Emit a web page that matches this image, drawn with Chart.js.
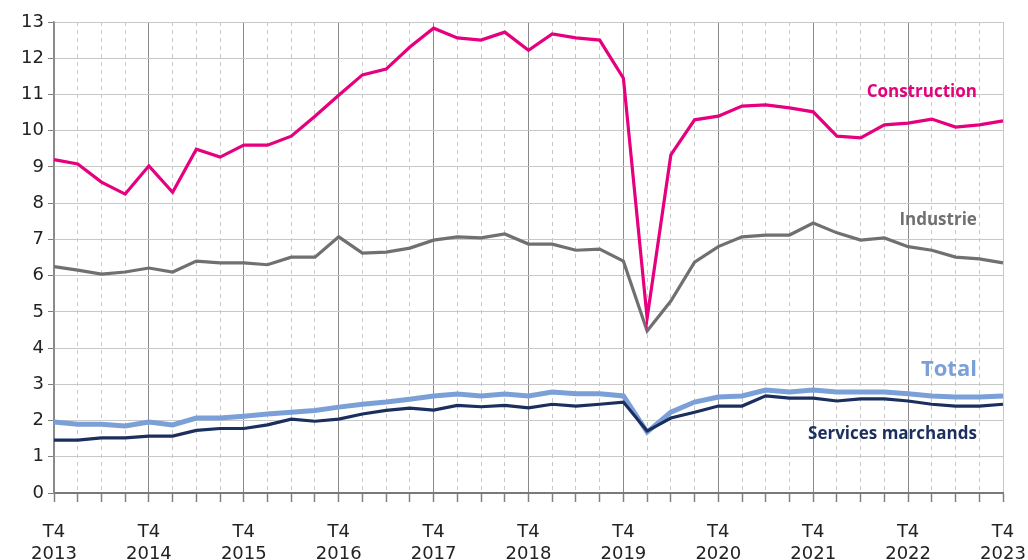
<!DOCTYPE html>
<html>
<head>
<meta charset="utf-8">
<script src="https://cdn.jsdelivr.net/npm/chart.js@4"></script>
<style>
    html, body { margin: 0; padding: 0; background: #fff; }
    #wrap { width: 1028px; height: 560px; }
</style>
</head>
<body>
<div id="wrap"><canvas id="chart" width="1028" height="560"></canvas></div>
<script>
// quarters from T4 2013 to T4 2023
const years = [2013, 2014, 2015, 2016, 2017, 2018, 2019, 2020, 2021, 2022, 2023];

const construction = [9.2, 9.08, 8.58, 8.25, 9.03, 8.3, 9.49, 9.27, 9.6, 9.6, 9.85,
    10.4, 10.98, 11.54, 11.7, 12.31, 12.83, 12.56, 12.5, 12.72, 12.22,
    12.67, 12.56, 12.5, 11.45, 4.83, 9.33, 10.3, 10.4, 10.68, 10.71,
    10.63, 10.52, 9.85, 9.8, 10.16, 10.21, 10.32, 10.1, 10.16, 10.27];

const industrie = [6.25, 6.15, 6.04, 6.1, 6.21, 6.1, 6.4, 6.35, 6.35, 6.3, 6.51,
    6.51, 7.07, 6.62, 6.65, 6.76, 6.98, 7.07, 7.04, 7.15, 6.87,
    6.87, 6.7, 6.73, 6.4, 4.47, 5.3, 6.37, 6.8, 7.07, 7.12,
    7.12, 7.45, 7.18, 6.98, 7.04, 6.8, 6.7, 6.51, 6.46, 6.35];

const total = [1.96, 1.9, 1.9, 1.85, 1.96, 1.88, 2.07, 2.07, 2.12, 2.18, 2.23,
    2.28, 2.37, 2.45, 2.51, 2.59, 2.68, 2.73, 2.68, 2.73, 2.68,
    2.79, 2.74, 2.74, 2.68, 1.68, 2.23, 2.51, 2.65, 2.68, 2.84,
    2.79, 2.84, 2.79, 2.79, 2.79, 2.74, 2.68, 2.65, 2.65, 2.68];

const services = [1.46, 1.46, 1.52, 1.52, 1.57, 1.57, 1.73, 1.78, 1.78, 1.88, 2.04,
    1.98, 2.04, 2.18, 2.28, 2.34, 2.29, 2.42, 2.38, 2.42, 2.35,
    2.45, 2.4, 2.45, 2.51, 1.71, 2.07, 2.23, 2.4, 2.4, 2.68,
    2.62, 2.62, 2.54, 2.6, 2.6, 2.54, 2.45, 2.4, 2.4, 2.45];

// series labels: text, x index, y value, colour, size
const seriesLabels = [
    { text: "Construction", x: 38.9, y: 11.05, color: "#E6007E", size: 17 },
    { text: "Industrie", x: 38.9, y: 7.52, color: "#707070", size: 17 },
    { text: "Total", x: 38.9, y: 3.4, color: "#7BA0D8", size: 22 },
    { text: "Services marchands", x: 38.9, y: 1.62, color: "#1B2F5E", size: 17 }
];

const labels = [];
for (let i = 0; i < construction.length; i++) {
    if (i % 4 === 0) labels.push(["T4", String(years[i / 4])]);
    else labels.push("");
}

const labelPlugin = {
    id: "seriesLabels",
    afterDatasetsDraw(chart) {
        const ctx = chart.ctx;
        const xs = chart.scales.x;
        const ys = chart.scales.y;
        ctx.save();
        ctx.textAlign = "right";
        ctx.textBaseline = "middle";
        seriesLabels.forEach(l => {
            ctx.font = "bold " + l.size + "px 'Open Sans'";
            ctx.fillStyle = l.color;
            ctx.fillText(l.text, xs.getPixelForValue(l.x), ys.getPixelForValue(l.y));
        });
        ctx.restore();
    }
};

function line(label, data, color, width) {
    return {
        label: label,
        data: data,
        borderColor: color,
        backgroundColor: color,
        borderWidth: width,
        pointRadius: 0,
        tension: 0,
        fill: false
    };
}

new Chart(document.getElementById("chart"), {
    type: "line",
    data: {
        labels: labels,
        datasets: [
            line("Construction", construction, "#E6007E", 3.2),
            line("Services marchands", services, "#1B2F5E", 3.2),
            line("Total", total, "#7BA0D8", 5),
            line("Industrie", industrie, "#707070", 3.2)
        ]
    },
    options: {
        responsive: false,
        animation: false,
        layout: { padding: { top: 22, right: 25, left: 0, bottom: 0 } },
        plugins: {
            legend: { display: false },
            tooltip: { enabled: false }
        },
        scales: {
            x: {
                offset: false,
                afterFit: s => {
                    s.height = 67;
                    s.paddingLeft = 0;
                    s.paddingRight = 0;
                },
                grid: {
                    color: c => (c.index % 4 === 0 && c.index !== 40) ? "#8a8a8a" : "#c8c8c8",
                    lineWidth: 1,
                    drawTicks: true,
                    tickLength: 9,
                    tickColor: "#808080",
                    tickWidth: 1.5
                },
                border: {
                    color: "#7a7a7a",
                    width: 2,
                    dash: c => (c.index % 4 === 0) ? [] : [4, 4]
                },
                ticks: {
                    autoSkip: false,
                    maxRotation: 0,
                    padding: 19,
                    color: "#222",
                    font: { family: "DejaVu Sans", size: 18, lineHeight: 1.25 }
                }
            },
            y: {
                min: 0,
                max: 13,
                afterFit: s => {
                    s.width = 54;
                    s.paddingTop = 0;
                    s.paddingBottom = 0;
                },
                grid: {
                    color: "#c8c8c8",
                    lineWidth: 1,
                    tickLength: 6,
                    tickColor: "#808080"
                },
                border: { color: "#8a8a8a", width: 1.5 },
                ticks: {
                    stepSize: 1,
                    padding: 4,
                    color: "#222",
                    font: { family: "DejaVu Sans", size: 18 }
                }
            }
        }
    },
    plugins: [labelPlugin]
});
</script>
</body>
</html>
